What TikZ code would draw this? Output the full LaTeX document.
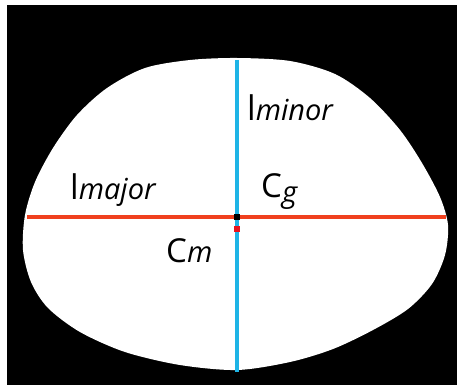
\documentclass[tikz,border=0pt]{standalone}
\usepackage{fontspec}
\setmainfont{Open Sans}
\definecolor{axred}{HTML}{F0401E}
\definecolor{axblue}{HTML}{1EB4E6}
\definecolor{dotred}{HTML}{E8141E}
\tikzset{
  lbl/.style={anchor=base west, inner sep=0pt, font=\fontsize{29}{29}\selectfont},
  dotbox/.style={minimum size=6.5pt, inner sep=0pt}
}
\newcommand{\tall}{{\fontsize{34}{34}\selectfont l}}
\newcommand{\bigC}{{\fontsize{33}{33}\selectfont C}}
\begin{document}
\begin{tikzpicture}[x=1pt,y=-1pt]
\useasboundingbox (0,0) rectangle (457,385);
\fill[white] (0,0) rectangle (457,385);
\fill[black] (7,5) rectangle (457,385);
% blob
\fill[white] plot[smooth cycle, tension=0.5] coordinates {
 (237,58) (290,61) (335,74) (370,98) (400,130) (422,163) (440,197)
 (448,225) (445,255) (432,284) (408,309) (373,330) (333,349) (290,362)
 (237,370) (180,365) (125,352) (80,332) (48,308) (31,282) (23,250)
 (25,215) (35,182) (53,148) (77,115) (107,88) (145,68) (190,60)};
% axes
\coordinate (mjL) at (27,217);
\coordinate (mjR) at (446,217);
\coordinate (mnT) at (237,60);
\coordinate (mnB) at (237,372);
\draw[axred, line width=3.5pt] (mjL) -- (mjR);
\draw[axblue, line width=4pt] (mnT) -- (mnB);
\node[dotbox, fill=black] (cg) at (237,217) {};
\node[dotbox, fill=dotred] (cm) at (237,229) {};
% labels
\node[lbl] (lmajor) at (70,199) {\tall\textit{major}};
\node[lbl] (lminor) at (247,121) {\tall\textit{minor}};
\node[lbl] (lcg) at (261,197) {\bigC\raisebox{-5pt}{\textit{g}}};
\node[lbl] (lcm) at (166,262) {\bigC\textit{m}};
\end{tikzpicture}
\end{document}
